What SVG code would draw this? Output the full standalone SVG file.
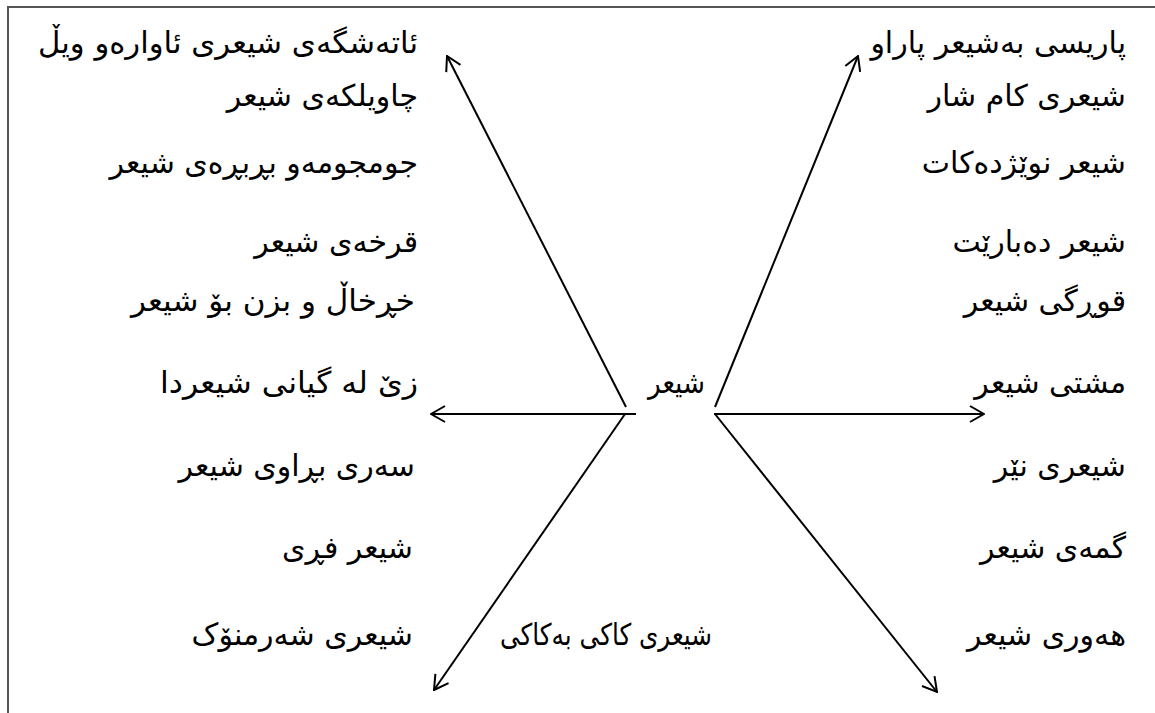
<svg xmlns="http://www.w3.org/2000/svg" width="1155" height="713" viewBox="0 0 1155 713">
  <style>
    .t { font-family: "DejaVu Sans", "Noto Sans", sans-serif; font-size: 30px; fill: #000; direction: rtl; text-anchor: start; }
    .c { fill: none; stroke: #000; stroke-width: 2; }
  </style>
  <defs>
    <marker id="arr" viewBox="0 0 16 18" refX="15" refY="9" markerWidth="16" markerHeight="18" markerUnits="userSpaceOnUse" orient="auto">
      <path d="M1,1 L15,9 L1,17" fill="none" stroke="#000" stroke-width="2"/>
    </marker>
  </defs>
  <rect width="1155" height="713" fill="#fff"/>
  <path d="M8,713 V7 H1155" fill="none" stroke="#555" stroke-width="2"/>

  <g id="connectors">
    <line class="c" x1="626" y1="407" x2="447" y2="56" marker-end="url(#arr)"/>
    <line class="c" x1="636" y1="414" x2="431" y2="414" marker-end="url(#arr)"/>
    <line class="c" x1="625" y1="414" x2="434" y2="690" marker-end="url(#arr)"/>
    <line class="c" x1="715" y1="407" x2="858" y2="56" marker-end="url(#arr)"/>
    <line class="c" x1="714" y1="414" x2="984" y2="414" marker-end="url(#arr)"/>
    <line class="c" x1="715" y1="414" x2="937" y2="692" marker-end="url(#arr)"/>
  </g>

  <g id="center"><text class="t" x="705" y="393" textLength="57" lengthAdjust="spacingAndGlyphs">شیعر</text></g>

  <g id="left-1"><text class="t" x="418" y="53" textLength="380" lengthAdjust="spacingAndGlyphs">ئاتەشگەی شیعری ئاوارەو ویڵ</text></g>
  <g id="left-2"><text class="t" x="418" y="106">چاویلکەی شیعر</text></g>
  <g id="left-3"><text class="t" x="418" y="173">جومجومەو بڕبڕەی شیعر</text></g>
  <g id="left-4"><text class="t" x="418" y="252">قرخەی شیعر</text></g>
  <g id="left-5"><text class="t" x="415" y="311" textLength="284" lengthAdjust="spacingAndGlyphs">خڕخاڵ و بزن بۆ شیعر</text></g>
  <g id="left-6"><text class="t" x="418" y="393" textLength="258" lengthAdjust="spacingAndGlyphs">زێ لە گیانی شیعردا</text></g>
  <g id="left-7"><text class="t" x="415" y="476">سەری بڕاوی شیعر</text></g>
  <g id="left-8"><text class="t" x="413" y="558">شیعر فڕی</text></g>
  <g id="left-9"><text class="t" x="413" y="645">شیعری شەرمنۆک</text></g>

  <g id="right-1"><text class="t" x="1126" y="53">پاریسی بەشیعر پاراو</text></g>
  <g id="right-2"><text class="t" x="1126" y="106">شیعری کام شار</text></g>
  <g id="right-3"><text class="t" x="1126" y="173">شیعر نوێژدەکات</text></g>
  <g id="right-4"><text class="t" x="1126" y="252">شیعر دەبارێت</text></g>
  <g id="right-5"><text class="t" x="1126" y="311">قوڕگی شیعر</text></g>
  <g id="right-6"><text class="t" x="1126" y="393">مشتی شیعر</text></g>
  <g id="right-7"><text class="t" x="1126" y="476">شیعری نێر</text></g>
  <g id="right-8"><text class="t" x="1126" y="558">گمەی شیعر</text></g>
  <g id="right-9"><text class="t" x="1126" y="645">هەوری شیعر</text></g>

  <g id="bottom"><text class="t" x="712" y="645" textLength="212" lengthAdjust="spacingAndGlyphs">شیعری کاکی بەکاکی</text></g>
</svg>
